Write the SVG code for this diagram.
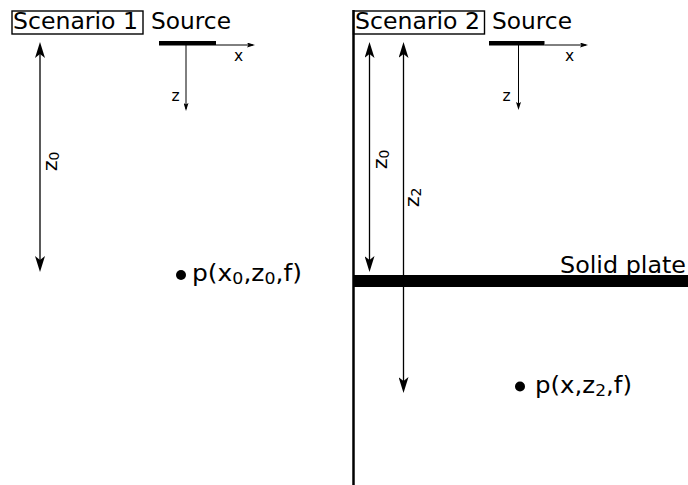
<svg xmlns="http://www.w3.org/2000/svg" width="688" height="485" viewBox="0 0 688 485">
<style>
text{font-family:"DejaVu Sans","Liberation Sans",sans-serif;fill:#000}
.t{font-size:23px}
.ax{font-size:15.5px}
.lbl{font-size:20px}
.sub{font-size:14px}
.box{fill:none;stroke:#000;stroke-width:1.4}
.dim{stroke:#000;stroke-width:1.3;fill:none}
.axis{stroke:#000;stroke-width:1;fill:none}
</style>
<defs>
<marker id="big" viewBox="0 0 16 10" refX="12" refY="5" markerWidth="16" markerHeight="10" markerUnits="userSpaceOnUse" orient="auto-start-reverse">
<path d="M0,0 L16,5 L0,10 L4,5 Z" fill="#000"/>
</marker>
<marker id="small" viewBox="0 0 8 5" refX="6" refY="2.5" markerWidth="8" markerHeight="5" markerUnits="userSpaceOnUse" orient="auto">
<path d="M0,0 L8,2.5 L0,5 L1.5,2.5 Z" fill="#000"/>
</marker>
</defs>
<rect width="688" height="485" fill="#fff"/>

<g id="scenario1">
<rect class="box" x="12" y="11" width="131" height="23"/>
<text class="t" x="13" y="28.5" textLength="125" lengthAdjust="spacingAndGlyphs">Scenario 1</text>
</g>
<g id="source1">
<text class="t" x="151" y="28.5" textLength="80" lengthAdjust="spacingAndGlyphs">Source</text>
<rect x="159" y="41" width="57" height="4.5" fill="#000"/>
<text class="ax" x="234" y="61">x</text>
<text class="ax" x="171.5" y="100.5">z</text>
</g>
<g id="point1">
<circle cx="181" cy="275" r="5" fill="#000"/>
<text class="t" x="192" y="281" textLength="110" lengthAdjust="spacingAndGlyphs">p(x<tspan font-size="16" dy="3">0</tspan><tspan dy="-3">,z</tspan><tspan font-size="16" dy="3">0</tspan><tspan dy="-3">,f)</tspan></text>
</g>
<g id="label-z0-1">
<text class="lbl" transform="translate(56.5,171) rotate(-90)">z<tspan class="sub" dy="2">0</tspan></text>
</g>

<g id="scenario2">
<line x1="353.5" y1="10" x2="353.5" y2="485" stroke="#000" stroke-width="2.5"/>
<rect class="box" x="353.5" y="11" width="131" height="23"/>
<text class="t" x="355" y="28.5" textLength="125" lengthAdjust="spacingAndGlyphs">Scenario 2</text>
</g>
<g id="source2">
<text class="t" x="492" y="28.5" textLength="80" lengthAdjust="spacingAndGlyphs">Source</text>
<rect x="489" y="41" width="55.5" height="4.5" fill="#000"/>
<text class="ax" x="565" y="61">x</text>
<text class="ax" x="502.5" y="100.5">z</text>
</g>
<g id="plate">
<rect x="353" y="275" width="335" height="12" fill="#000"/>
<text class="t" x="560" y="272.5" textLength="126" lengthAdjust="spacingAndGlyphs" style="font-size:23.5px">Solid plate</text>
</g>
<g id="point2">
<circle cx="520" cy="386.5" r="5" fill="#000"/>
<text class="t" x="535" y="392.5" textLength="97" lengthAdjust="spacingAndGlyphs">p(x,z<tspan font-size="16" dy="3">2</tspan><tspan dy="-3">,f)</tspan></text>
</g>
<g id="label-z0-2">
<text class="lbl" transform="translate(386.5,169) rotate(-90)">z<tspan class="sub" dy="2">0</tspan></text>
</g>
<g id="label-z2">
<text class="lbl" transform="translate(419,207) rotate(-90)">z<tspan class="sub" dy="2">2</tspan></text>
</g>

<g id="connectors">
<line class="dim" x1="40" y1="46" x2="40" y2="268" marker-start="url(#big)" marker-end="url(#big)"/>
<line class="dim" x1="369.5" y1="46" x2="369.5" y2="268" marker-start="url(#big)" marker-end="url(#big)"/>
<line class="dim" x1="403.5" y1="46" x2="403.5" y2="389" marker-start="url(#big)" marker-end="url(#big)"/>
<line class="axis" x1="216" y1="45" x2="253" y2="45" marker-end="url(#small)"/>
<line class="axis" x1="186" y1="45" x2="186" y2="109" marker-end="url(#small)"/>
<line class="axis" x1="544.5" y1="45" x2="586" y2="45" marker-end="url(#small)"/>
<line class="axis" x1="518.5" y1="45" x2="518.5" y2="108" marker-end="url(#small)"/>
</g>
</svg>
